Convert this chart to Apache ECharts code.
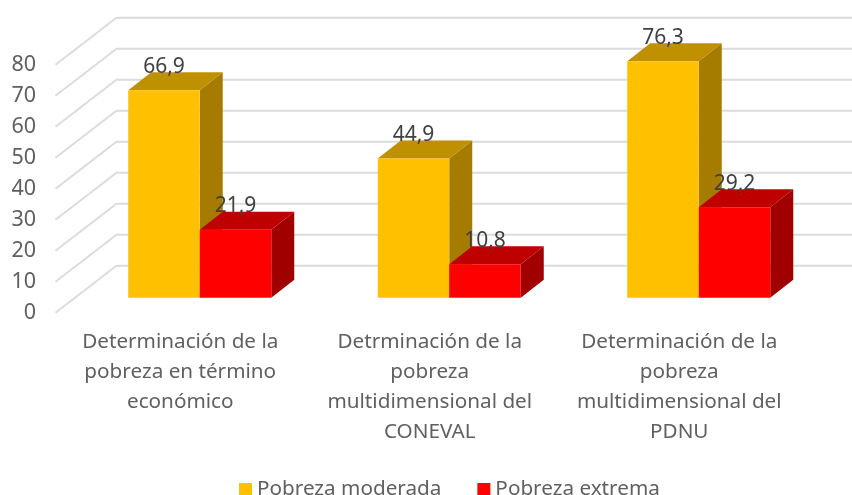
<!DOCTYPE html>
<html>
<head>
<meta charset="utf-8">
<title>Pobreza</title>
<script src="https://cdn.jsdelivr.net/npm/echarts@6/dist/echarts.min.js"></script>
<style>
html, body { margin: 0; padding: 0; background: #fff; }
#main { width: 852px; height: 495px; }
</style>
</head>
<body>
<div id="main"></div>
<script>
var categories = [
  'Determinación de la\npobreza en término\neconómico',
  'Detrminación de la\npobreza\nmultidimensional del\nCONEVAL',
  'Determinación de la\npobreza\nmultidimensional del\nPDNU'
];
var moderada = [66.9, 44.9, 76.3];
var extrema = [21.9, 10.8, 29.2];
var yTicks = [0, 10, 20, 30, 40, 50, 60, 70, 80];

var fontName = '"Noto Sans", sans-serif';
var textColor = '#606060';

// 3d look: how far the bars and the back wall sit from the axis plane
var barShift = [19.5, -15];
var barDepth = [23, -18];
var wallDepth = [61, -47];
var barRatio = 0.2866;

function barRender(side, front, top, right) {
  return function (params, api) {
    var center = api.coord([api.value(0), 0]);
    var head = api.coord([api.value(0), api.value(1)]);
    var w = api.size([1, 0])[0] * barRatio;
    var x0 = center[0] + barShift[0] + side * w;
    var x1 = x0 + w;
    var y0 = center[1] + barShift[1];
    var y1 = head[1] + barShift[1];
    var dx = barDepth[0];
    var dy = barDepth[1];
    return {
      type: 'group',
      children: [
        { type: 'polygon', shape: { points: [[x1, y0], [x1 + dx, y0 + dy], [x1 + dx, y1 + dy], [x1, y1]] }, style: { fill: right } },
        { type: 'polygon', shape: { points: [[x0, y1], [x1, y1], [x1 + dx, y1 + dy], [x0 + dx, y1 + dy]] }, style: { fill: top } },
        { type: 'rect', shape: { x: x0, y: y1, width: w, height: y0 - y1 }, style: { fill: front } },
        {
          type: 'text',
          style: {
            x: (x0 + x1) / 2,
            y: y1 - 23.5,
            text: api.value(1).toFixed(1).replace('.', ','),
            fill: '#404040',
            font: '21px ' + fontName,
            align: 'center',
            verticalAlign: 'middle'
          }
        }
      ]
    };
  };
}

function wallRender(params, api) {
  var sys = params.coordSys;
  var y = api.coord([0, api.value(0)])[1];
  var x = sys.x;
  return {
    type: 'polyline',
    shape: { points: [[x, y], [x + wallDepth[0], y + wallDepth[1]], [x + sys.width + wallDepth[0], y + wallDepth[1]]] },
    style: { stroke: '#dcdcdc', lineWidth: 2, fill: null }
  };
}

var mychart = echarts.init(document.getElementById('main'));
var option = {
  animation: false,
  backgroundColor: '#fff',
  grid: { left: 55.5, top: 64.7, width: 748.5, height: 248 },
  legend: {
    left: 234,
    top: 474,
    icon: 'rect',
    itemWidth: 13,
    itemHeight: 13,
    itemGap: 36,
    selectedMode: false,
    data: ['Pobreza moderada', 'Pobreza extrema'],
    textStyle: { color: textColor, fontSize: 20.7, fontFamily: fontName }
  },
  xAxis: {
    type: 'category',
    data: categories,
    axisLine: { show: false },
    axisTick: { show: false },
    axisLabel: { interval: 0, margin: 14, color: textColor, fontSize: 20.7, lineHeight: 30, fontFamily: fontName }
  },
  yAxis: {
    type: 'value',
    min: 0,
    max: 80,
    interval: 10,
    axisLine: { show: false },
    axisTick: { show: false },
    splitLine: { show: false },
    axisLabel: { margin: 19.5, color: textColor, fontSize: 21.5, fontFamily: fontName }
  },
  series: [
    { type: 'custom', name: 'wall', renderItem: wallRender, data: yTicks.map(function (v) { return [v]; }), encode: { y: 0 }, silent: true },
    {
      type: 'custom',
      name: 'Pobreza moderada',
      renderItem: barRender(-1, '#ffc000', '#bf9000', '#a67c00'),
      itemStyle: { color: '#ffc000' },
      data: moderada.map(function (v, i) { return [i, v]; }),
      encode: { x: 0, y: 1 }
    },
    {
      type: 'custom',
      name: 'Pobreza extrema',
      renderItem: barRender(0, '#ff0000', '#bf0000', '#a00000'),
      itemStyle: { color: '#ff0000' },
      data: extrema.map(function (v, i) { return [i, v]; }),
      encode: { x: 0, y: 1 }
    }
  ]
};
mychart.setOption(option);
</script>
</body>
</html>
